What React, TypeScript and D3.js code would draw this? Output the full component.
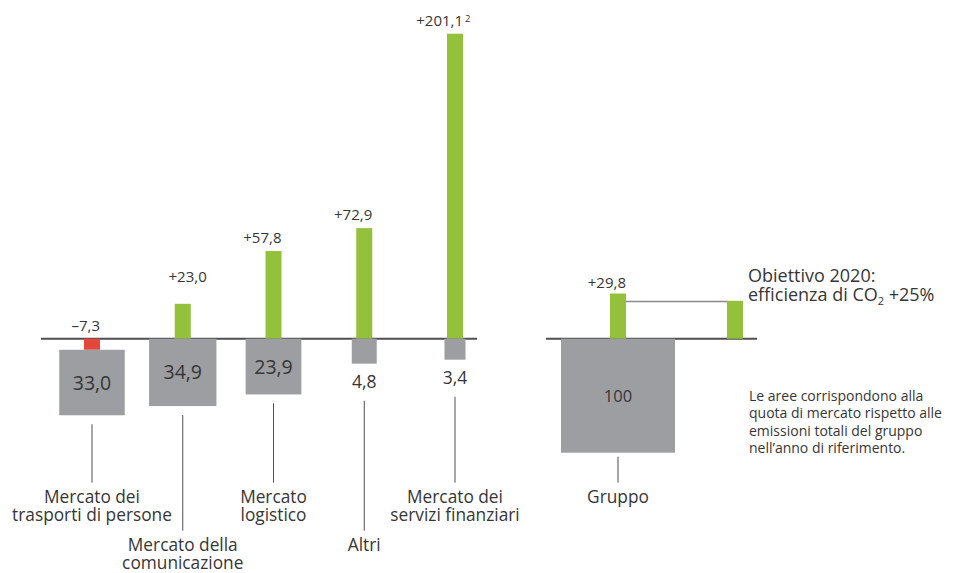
import React from "react";
import * as d3 from "d3";

// ---- data ----
const categories: string[][] = [
  ["Mercato dei", "trasporti di persone"],
  ["Mercato della", "comunicazione"],
  ["Mercato", "logistico"],
  ["Altri"],
  ["Mercato dei", "servizi finanziari"],
];
const changes: number[] = [-7.3, 23.0, 57.8, 72.9, 201.1];
const footnotes: string[] = ["", "", "", "", "2"];
const shares: number[] = [33.0, 34.9, 23.9, 4.8, 3.4];
const labelLevels: number[] = [0, 1, 0, 1, 0];

const groupLabel = "Gruppo";
const groupChange = 29.8;
const groupShare = 100;
const targetValue = 25;
const targetText = ["Obiettivo 2020:", "efficienza di CO", "2", " +25%"];
const noteLines: string[] = [
  "Le aree corrispondono alla",
  "quota di mercato rispetto alle",
  "emissioni totali del gruppo",
  "nell\u2019anno di riferimento.",
];

// ---- layout ----
const W = 958;
const H = 573;
const baseY = 338.7;
const barW = 16;
const GREEN = "#93c13b";
const RED = "#e6453a";
const GREY = "#9d9ea2";
const TEXT = "#363636";
const LINE = "#4f4f4f";
const FONT = "'Open Sans', 'Noto Sans', sans-serif";

const fmt = (v: number) => {
  const s = Math.abs(v).toFixed(1).replace(".", ",");
  return (v < 0 ? "\u2013" : "+") + s;
};

export default function App() {
  const x = d3.scaleLinear().domain([0, categories.length - 1]).range([92, 455]);
  const y = d3.scaleLinear().domain([0, 201.1]).range([baseY, 33.7]);
  const side = d3.scaleSqrt().domain([0, 100]).range([0, 114]);
  const groupX = 618;
  const targetX = 735;
  const lineEnds = [482.7, 530.7];
  const labelBase = [503, 551];
  const lh = 18.3;
  const catFont = 17.3;

  return (
    <svg
      width={W}
      height={H}
      style={{ position: "absolute", left: 0, top: 0, background: "#fff" }}
      fontFamily={FONT}
    >
      {/* baselines */}
      <line x1={41} x2={477} y1={baseY} y2={baseY} stroke={LINE} strokeWidth={2} />
      <line x1={546} x2={757} y1={baseY} y2={baseY} stroke={LINE} strokeWidth={2} />

      {changes.map((v, i) => {
        const cx = x(i);
        const neg = v < 0;
        const top = neg ? baseY : y(v);
        const h = Math.abs(y(v) - baseY);
        const boxTop = neg ? baseY + h : baseY;
        const s = side(shares[i]);
        const boxBottom = boxTop + s;
        const big = shares[i] >= 10;
        const shareLabelY = big ? boxTop + s / 2 + 7 : boxBottom + 24;
        const lineStart = big ? boxBottom + 9 : shareLabelY + 13;
        const lvl = labelLevels[i];
        // value label (right aligned with the bar)
        const special = i === 1;
        const lx = cx + barW / 2 + (special ? 16 : 0);
        const ly = (neg ? baseY : top) - (special ? 22 : 8);
        return (
          <g key={i}>
            <rect x={cx - barW / 2} y={top} width={barW} height={h} fill={neg ? RED : GREEN} />
            <rect x={cx - s / 2} y={boxTop} width={s} height={s} fill={GREY} />
            <text
              x={cx}
              y={shareLabelY}
              textAnchor="middle"
              fontSize={big ? 19.5 : 17.5}
              fill={TEXT}
            >
              {shares[i].toFixed(1).replace(".", ",")}
            </text>
            <text x={lx} y={ly} textAnchor="end" fontSize={15} fill={TEXT}>
              {fmt(v)}
            </text>
            {footnotes[i] && (
              <text x={lx + 2} y={ly - 4} fontSize={9.5} fill={TEXT}>
                {footnotes[i]}
              </text>
            )}
            <line x1={cx} x2={cx} y1={lineStart} y2={lineEnds[lvl]} stroke={LINE} strokeWidth={1} />
            {categories[i].map((t, j) => (
              <text
                key={j}
                x={cx}
                y={labelBase[lvl] + j * lh}
                textAnchor="middle"
                fontSize={catFont}
                fill={TEXT}
              >
                {t}
              </text>
            ))}
          </g>
        );
      })}

      {/* group */}
      {(() => {
        const s = side(groupShare);
        const top = y(groupChange);
        const tTop = y(targetValue);
        return (
          <g>
            <rect x={groupX - barW / 2} y={top} width={barW} height={baseY - top} fill={GREEN} />
            <rect x={targetX - barW / 2} y={tTop} width={barW} height={baseY - tTop} fill={GREEN} />
            <line
              x1={groupX + barW / 2}
              x2={targetX - barW / 2}
              y1={tTop + 0.7}
              y2={tTop + 0.7}
              stroke="#8a8a8a"
              strokeWidth={1.3}
            />
            <rect x={groupX - s / 2} y={baseY} width={s} height={s} fill={GREY} />
            <text x={groupX} y={baseY + s / 2 + 6} textAnchor="middle" fontSize={16.5} fill={TEXT}>
              {String(groupShare)}
            </text>
            <text x={groupX + barW / 2} y={top - 6} textAnchor="end" fontSize={15} fill={TEXT}>
              {fmt(groupChange)}
            </text>
            <line x1={groupX} x2={groupX} y1={baseY + s + 4} y2={lineEnds[0]} stroke={LINE} strokeWidth={1} />
            <text x={groupX} y={labelBase[0]} textAnchor="middle" fontSize={catFont} fill={TEXT}>
              {groupLabel}
            </text>
            <text x={748} y={281.5} fontSize={18} fill={TEXT}>
              {targetText[0]}
            </text>
            <text x={748} y={300.5} fontSize={18} fill={TEXT}>
              {targetText[1]}
              <tspan fontSize={11} dy={4}>
                {targetText[2]}
              </tspan>
              <tspan dy={-4}>{targetText[3]}</tspan>
            </text>
            {noteLines.map((t, i) => (
              <text key={i} x={749} y={401 + i * 17.4} fontSize={14} fill={TEXT}>
                {t}
              </text>
            ))}
          </g>
        );
      })()}
    </svg>
  );
}
